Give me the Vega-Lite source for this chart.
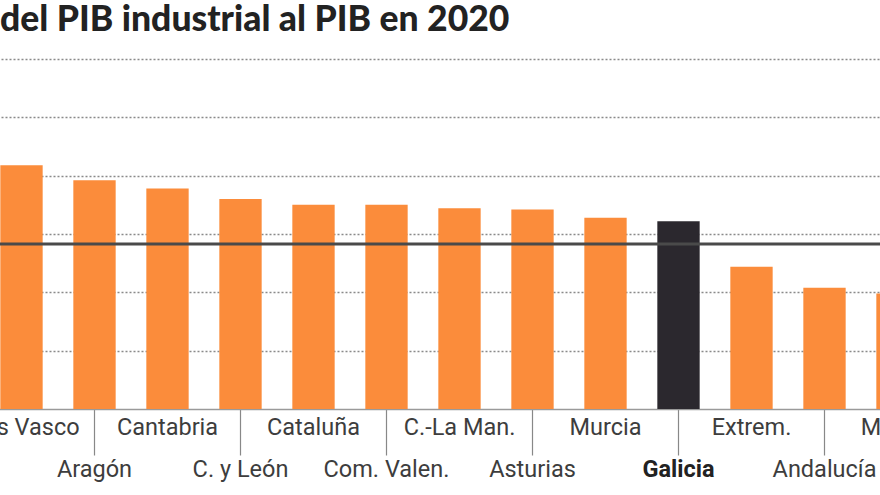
{
  "$schema": "https://vega.github.io/schema/vega-lite/v6.json",
  "autosize": {"type": "none"},
  "width": 949,
  "height": 350,
  "padding": {"left": -15, "top": 59, "right": -54, "bottom": 86},
  "background": "white",
  "title": {
    "text": "del PIB industrial al PIB en 2020",
    "anchor": "start",
    "frame": "group",
    "dx": 15,
    "offset": 21,
    "fontSize": 35.5,
    "font": "Lato",
    "fontWeight": 900,
    "color": "#222222"
  },
  "config": {"view": {"stroke": null}},
  "layer": [
    {
      "data": {
        "values": [
          {"region": "País Vasco", "valor": 20.9},
          {"region": "Aragón", "valor": 19.6},
          {"region": "Cantabria", "valor": 18.9},
          {"region": "C. y León", "valor": 18.0},
          {"region": "Cataluña", "valor": 17.5},
          {"region": "Com. Valen.", "valor": 17.5},
          {"region": "C.-La Man.", "valor": 17.2},
          {"region": "Asturias", "valor": 17.1},
          {"region": "Murcia", "valor": 16.4},
          {"region": "Galicia", "valor": 16.1},
          {"region": "Extrem.", "valor": 12.2},
          {"region": "Andalucía", "valor": 10.4},
          {"region": "Madrid", "valor": 9.9}
        ]
      },
      "mark": {"type": "bar"},
      "encoding": {
        "x": {
          "field": "region",
          "type": "nominal",
          "sort": null,
          "scale": {"paddingInner": 0.42, "paddingOuter": 0.21},
          "axis": {
            "title": null,
            "labelAngle": 0,
            "labelFont": "Roboto",
            "labelFontSize": 23.5,
            "labelColor": {"condition": {"test": "datum.value === 'Galicia'", "value": "#222222"}, "value": "#3d3d3d"},
            "labelFontWeight": {"condition": {"test": "datum.value === 'Galicia'", "value": "bold"}, "value": "normal"},
            "labelPadding": {"condition": {"test": "indexof(['Aragón','C. y León','Com. Valen.','Asturias','Galicia','Andalucía'], datum.value) >= 0", "value": 2}, "value": 6},
            "tickSize": {"condition": {"test": "indexof(['Aragón','C. y León','Com. Valen.','Asturias','Galicia','Andalucía'], datum.value) >= 0", "value": 46}, "value": 0},
            "tickColor": "#888888",
            "tickWidth": 1.2,
            "domainColor": "#9a9a9a",
            "domainWidth": 1.5,
            "labelOverlap": false,
            "labelBound": false,
            "labelLimit": 0
          }
        },
        "y": {
          "field": "valor",
          "type": "quantitative",
          "scale": {"domain": [0, 30]},
          "axis": {
            "title": null,
            "labels": false,
            "ticks": false,
            "domain": false,
            "values": [5, 10, 15, 20, 25, 30],
            "grid": true,
            "gridDash": [2, 2],
            "gridColor": "#8a8a8a",
            "gridWidth": 1.5
          }
        },
        "color": {
          "condition": {"test": "datum.region === 'Galicia'", "value": "#2b282e"},
          "value": "#fb8c3b"
        }
      }
    },
    {
      "data": {"values": [{"media": 14.15}]},
      "mark": {"type": "rule", "color": "#4a4a4a", "strokeWidth": 3},
      "encoding": {
        "y": {"field": "media", "type": "quantitative"}
      }
    }
  ]
}
